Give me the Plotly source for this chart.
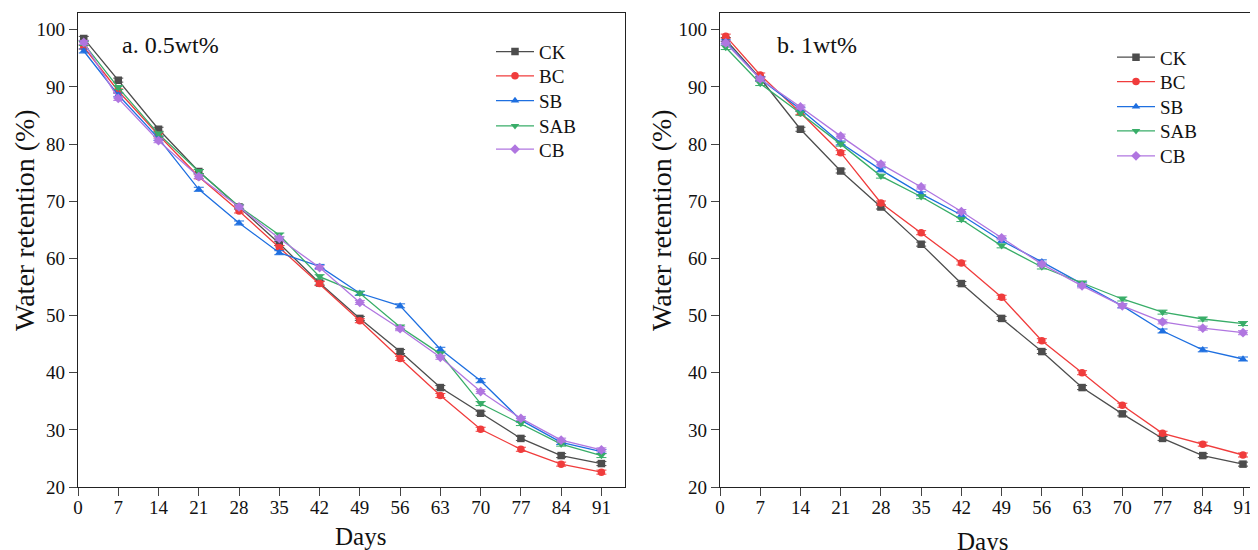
import plotly.graph_objects as go

days = [1, 7, 14, 21, 28, 35, 42, 49, 56, 63, 70, 77, 84, 91]
x_ticks = [0, 7, 14, 21, 28, 35, 42, 49, 56, 63, 70, 77, 84, 91]
y_ticks = [20, 30, 40, 50, 60, 70, 80, 90, 100]
series_names = ["CK", "BC", "SB", "SAB", "CB"]

# Panel a: 0.5wt%
a_CK = [98.5, 91.2, 82.6, 75.2, 69.0, 62.6, 55.7, 49.5, 43.7, 37.4, 32.9, 28.5, 25.5, 24.1]
a_BC = [97.0, 89.3, 81.6, 74.3, 68.3, 61.9, 55.6, 49.1, 42.5, 36.0, 30.1, 26.6, 24.0, 22.6]
a_SB = [96.3, 88.6, 81.0, 72.1, 66.2, 61.0, 58.6, 53.9, 51.7, 44.1, 38.6, 31.7, 27.8, 26.2]
a_SAB = [97.6, 89.9, 81.8, 75.2, 69.1, 64.1, 56.8, 53.9, 48.0, 43.3, 34.6, 31.1, 27.5, 25.5]
a_CB = [97.8, 88.0, 80.6, 74.3, 69.0, 63.5, 58.4, 52.3, 47.7, 42.7, 36.7, 32.0, 28.2, 26.5]

# Panel b: 1wt%
b_CK = [98.3, 91.5, 82.6, 75.3, 69.0, 62.5, 55.6, 49.5, 43.7, 37.4, 32.8, 28.5, 25.5, 24.0]
b_BC = [98.9, 92.1, 85.5, 78.5, 69.7, 64.5, 59.2, 53.2, 45.6, 40.0, 34.3, 29.4, 27.5, 25.6]
b_SB = [97.9, 91.4, 86.1, 80.2, 75.5, 71.3, 67.6, 63.1, 59.4, 55.5, 51.7, 47.3, 44.0, 42.4]
b_SAB = [96.9, 90.6, 85.4, 80.0, 74.4, 70.8, 66.8, 62.2, 58.5, 55.7, 52.9, 50.6, 49.4, 48.6]
b_CB = [97.7, 91.4, 86.5, 81.4, 76.5, 72.5, 68.2, 63.6, 59.0, 55.2, 51.7, 48.9, 47.8, 47.0]

panel_a = [a_CK, a_BC, a_SB, a_SAB, a_CB]
panel_b = [b_CK, b_BC, b_SB, b_SAB, b_CB]

colors = ["#4D4D4D", "#F03C3C", "#1E6FE0", "#38AD68", "#B076E0"]
symbols = ["square", "circle", "triangle-up", "triangle-down", "diamond"]

FONT = "Liberation Serif"
W, H = 1258, 550
OFF = 8  # page body margin


def px_x(p):
    return (p - OFF) / W


def px_y(p):
    return 1 - (p - OFF) / H


# legend row layout (reference pixels)
legend_left_x = [491, 1112]
legend_rows_y = [[51.7, 76.0, 100.7, 126.0, 149.3], [57.3, 81.7, 106.7, 131.0, 156.0]]

fig = go.Figure()
legend_layout = {}
li = 0
for p, (vals_list, xa, ya) in enumerate([(panel_a, "x", "y"), (panel_b, "x2", "y2")]):
    for k, (name, vals, c, s) in enumerate(zip(series_names, vals_list, colors, symbols)):
        li += 1
        lname = "legend" if li == 1 else f"legend{li}"
        fig.add_trace(go.Scatter(
            x=days, y=vals, name=name, mode="lines+markers",
            xaxis=xa, yaxis=ya, legend=lname,
            line=dict(color=c, width=1.3),
            marker=dict(symbol=s, size=7.5, color=c),
            error_y=dict(type="constant", value=0.35, color=c, thickness=1, width=5),
        ))
        legend_layout[lname] = dict(
            x=px_x(legend_left_x[p]), y=px_y(legend_rows_y[p][k]),
            xanchor="left", yanchor="middle",
            bgcolor="rgba(0,0,0,0)", borderwidth=0,
            font=dict(family=FONT, size=19, color="#111"),
            itemwidth=38,
        )

axis_common = dict(
    showline=True, linecolor="#222", linewidth=1.3,
    ticks="outside", ticklen=8, tickwidth=1.3, tickcolor="#444",
    showgrid=False, zeroline=False, automargin=False,
    tickfont=dict(family=FONT, size=19, color="#111"),
)

fig.update_layout(
    width=W, height=H,
    margin=dict(l=0, r=0, t=0, b=0),
    paper_bgcolor="white", plot_bgcolor="white",
    font=dict(family=FONT, color="#111"),
    xaxis=dict(domain=[px_x(78), px_x(625)], range=[0, 95.1], tickvals=x_ticks,
               mirror=True, anchor="y", ticklabelstandoff=-5, **axis_common),
    yaxis=dict(domain=[px_y(487), px_y(12.7)], range=[20, 103], tickvals=y_ticks,
               mirror=True, anchor="x", **axis_common),
    xaxis2=dict(domain=[px_x(720), 1.0], range=[0, 95.0], tickvals=x_ticks,
                mirror=True, anchor="y2", ticklabelstandoff=-5, **axis_common),
    yaxis2=dict(domain=[px_y(487), px_y(12.7)], range=[20, 103], tickvals=y_ticks,
                mirror=True, anchor="x2", **axis_common),
    showlegend=True,
    **legend_layout,
)

annotations = [
    dict(text="a. 0.5wt%", x=px_x(120), y=px_y(45), xanchor="left", yanchor="middle", size=24),
    dict(text="b. 1wt%", x=px_x(775), y=px_y(45), xanchor="left", yanchor="middle", size=24),
    dict(text="Days", x=px_x(360), y=px_y(536), xanchor="center", yanchor="middle", size=25),
    dict(text="Days", x=px_x(982), y=px_y(541), xanchor="center", yanchor="middle", size=25),
    dict(text="Water retention (%)", x=px_x(24), y=px_y(220), xanchor="center", yanchor="middle",
         size=28, textangle=-90),
    dict(text="Water retention (%)", x=px_x(661), y=px_y(220), xanchor="center", yanchor="middle",
         size=28, textangle=-90),
]
for a in annotations:
    size = a.pop("size", 21)
    fig.add_annotation(xref="paper", yref="paper", showarrow=False,
                       font=dict(family=FONT, size=size, color="#111"), **a)

fig.write_html("out.html")
